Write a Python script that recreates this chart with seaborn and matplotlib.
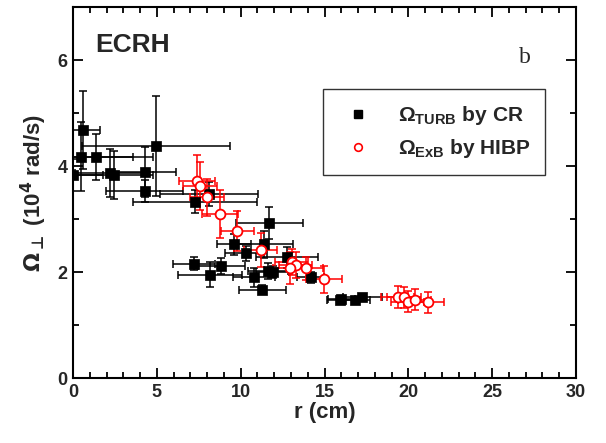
import numpy as np
import pandas as pd
import matplotlib
matplotlib.use("Agg")
import matplotlib.pyplot as plt
from matplotlib.lines import Line2D
from matplotlib.ticker import MultipleLocator
import seaborn as sns

# Omega_TURB from correlation reflectometry (CR)
cr_r = [0.0, 0.46, 0.62, 1.39, 4.95, 2.2, 2.46, 4.27, 4.27, 8.11, 7.27,
        11.7, 9.6, 11.39, 10.3, 12.76, 7.2, 8.84, 8.17, 10.8, 11.65, 11.9,
        14.17, 11.3, 15.9, 16.0, 16.8, 17.25]
cr_w = [3.83, 4.18, 4.68, 4.17, 4.38, 3.87, 3.83, 3.89, 3.53, 3.47, 3.33,
        2.93, 2.52, 2.52, 2.35, 2.28, 2.16, 2.11, 1.95, 1.9, 2.02, 2.0,
        1.9, 1.67, 1.47, 1.49, 1.47, 1.53]
cr_rerr = [1.8, 3.1, 1.0, 3.4, 4.4, 2.1, 2.3, 1.85, 2.3, 2.9, 3.7,
           2.0, 1.0, 1.75, 1.25, 1.85, 1.25, 1.4, 1.9, 1.25, 1.2, 1.0,
           0.8, 1.4, 0.77, 0.8, 0.9, 1.15]
cr_werr = [0.3, 0.65, 0.74, 0.43, 0.95, 0.45, 0.45, 0.47, 0.2, 0.22, 0.22,
           0.3, 0.2, 0.25, 0.15, 0.2, 0.13, 0.15, 0.23, 0.18, 0.15, 0.12,
           0.1, 0.08, 0.06, 0.06, 0.06, 0.06]

# Omega_ExB from heavy ion beam probe (HIBP)
hibp_r = [7.39, 7.57, 8.0, 8.77, 9.8, 11.19, 13.04, 13.28, 12.94, 13.9,
          14.97, 19.36, 19.74, 19.96, 20.37, 21.15]
hibp_w = [3.72, 3.63, 3.41, 3.1, 2.77, 2.42, 2.19, 2.13, 2.07, 2.07,
          1.86, 1.53, 1.52, 1.44, 1.48, 1.43]
hibp_rerr = [1.05, 1.0, 1.0, 1.05, 1.0, 1.0, 1.0, 1.0, 1.0, 1.0,
             1.05, 1.0, 1.0, 1.0, 1.0, 1.0]
hibp_werr = [0.48, 0.45, 0.35, 0.45, 0.38, 0.32, 0.25, 0.25, 0.3, 0.22,
             0.25, 0.2, 0.2, 0.2, 0.2, 0.2]

cr = pd.DataFrame({"r": cr_r, "w": cr_w})
hibp = pd.DataFrame({"r": hibp_r, "w": hibp_w})

sns.set_theme(style="ticks")
plt.rcParams["font.family"] = ["Liberation Sans", "DejaVu Sans"]
plt.rcParams["font.weight"] = "bold"
plt.rcParams["mathtext.fontset"] = "custom"
plt.rcParams["mathtext.rm"] = "Liberation Sans:bold"
plt.rcParams["mathtext.bf"] = "Liberation Sans:bold"
plt.rcParams["mathtext.it"] = "Liberation Sans:bold"

fig = plt.figure(figsize=(6.06, 4.43), dpi=100)
ax = fig.add_axes([0.1205, 0.1467, 0.83, 0.8373])

ax.errorbar(cr["r"], cr["w"], xerr=cr_rerr, yerr=cr_werr, fmt="none",
            ecolor="black", elinewidth=1.1, capsize=3, capthick=1.1, zorder=2)
ax.errorbar(hibp["r"], hibp["w"], xerr=hibp_rerr, yerr=hibp_werr, fmt="none",
            ecolor="red", elinewidth=1.1, capsize=3, capthick=1.1, zorder=3)

sns.scatterplot(data=cr, x="r", y="w", ax=ax, marker="s", s=55,
                color="black", edgecolor="black", linewidth=0.5, zorder=4)
sns.scatterplot(data=hibp, x="r", y="w", ax=ax, marker="o", s=50,
                facecolor="white", edgecolor="red", linewidth=1.3, zorder=5)

ax.set_xlim(0, 30)
ax.set_ylim(0, 7)
ax.xaxis.set_major_locator(MultipleLocator(5))
ax.xaxis.set_minor_locator(MultipleLocator(1))
ax.yaxis.set_major_locator(MultipleLocator(2))
ax.yaxis.set_minor_locator(MultipleLocator(1))
ax.tick_params(which="both", direction="in", top=True, right=True,
               labeltop=False, labelright=False, width=1.3, color="black")
ax.tick_params(which="major", length=7, labelsize=13, pad=4)
ax.tick_params(which="minor", length=4)
for lbl in ax.get_xticklabels() + ax.get_yticklabels():
    lbl.set_fontweight("bold")
for sp in ax.spines.values():
    sp.set_linewidth(1.5)
    sp.set_color("black")

ax.set_xlabel("r (cm)", fontsize=16, fontweight="bold", labelpad=1)
ax.set_ylabel(r"$\mathbf{\Omega}_{\mathbf{\bot}}$ (10$^{\mathbf{4}}$ rad/s)",
              fontsize=16, fontweight="bold", labelpad=6,
              math_fontfamily="dejavusans")

ax.text(0.044, 0.879, "ECRH", transform=ax.transAxes, fontsize=19,
        fontweight="bold", va="baseline", ha="left")
ax.text(0.887, 0.849, "b", transform=ax.transAxes, fontsize=17,
        fontweight="normal", family="Liberation Serif", va="baseline", ha="left")

handles = [
    Line2D([], [], linestyle="none", marker="s", markersize=6,
           markerfacecolor="black", markeredgecolor="black"),
    Line2D([], [], linestyle="none", marker="o", markersize=5.5,
           markerfacecolor="white", markeredgecolor="red", markeredgewidth=1.2),
]
labels = [r"$\mathbf{\Omega_{TURB}}$ by CR", r"$\mathbf{\Omega_{ExB}}$ by HIBP"]
leg = ax.legend(handles, labels, loc="upper left", bbox_to_anchor=(0.496, 0.778),
                borderaxespad=0, frameon=True, fancybox=False, edgecolor="black",
                prop={"size": 15, "weight": "bold"}, handlelength=2.0,
                handletextpad=0.9, borderpad=0.7, labelspacing=0.5)
leg.get_frame().set_linewidth(1.0)

fig.savefig("out.png", dpi=100)
